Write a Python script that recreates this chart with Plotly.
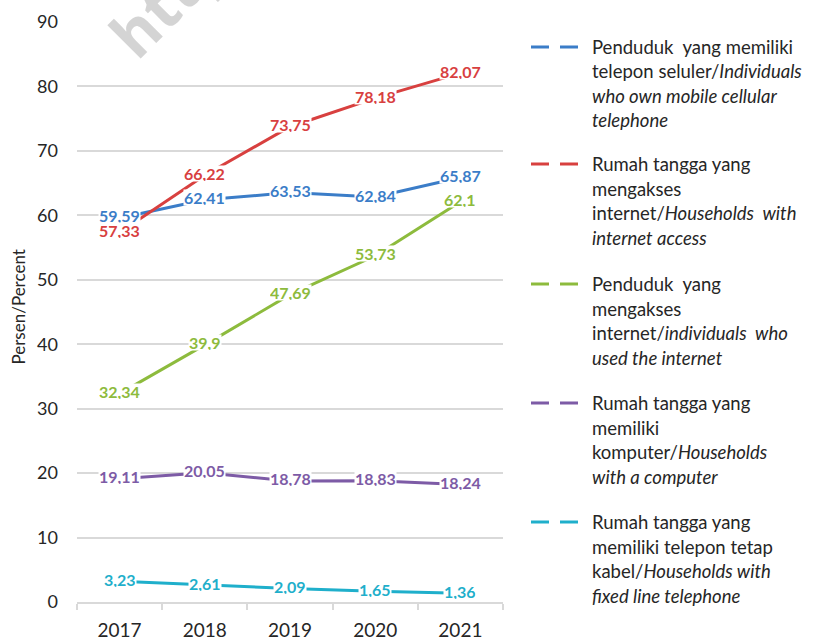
import plotly.graph_objects as go

years = ["2017", "2018", "2019", "2020", "2021"]
mobile = [59.59, 62.41, 63.53, 62.84, 65.87]
hh_internet = [57.33, 66.22, 73.75, 78.18, 82.07]
ind_internet = [32.34, 39.9, 47.69, 53.73, 62.1]
hh_computer = [19.11, 20.05, 18.78, 18.83, 18.24]
hh_fixed = [3.23, 2.61, 2.09, 1.65, 1.36]

series = [mobile, hh_internet, ind_internet, hh_computer, hh_fixed]
colors = ["#3B7DC8", "#D8403F", "#8DBB3D", "#7D5BA6", "#1FAFCB"]
legend_lines = [
    ["Penduduk  yang memiliki", "telepon seluler/<i>Individuals</i>", "<i>who own mobile cellular</i>", "<i>telephone</i>"],
    ["Rumah tangga yang", "mengakses", "internet/<i>Households  with</i>", "<i>internet access</i>"],
    ["Penduduk  yang", "mengakses", "internet/<i>individuals  who</i>", "<i>used the internet</i>"],
    ["Rumah tangga yang", "memiliki", "komputer/<i>Households</i>", "<i>with a computer</i>"],
    ["Rumah tangga yang", "memiliki telepon tetap", "kabel/<i>Households with</i>", "<i>fixed line telephone</i>"],
]
y_ticks = [0, 10, 20, 30, 40, 50, 60, 70, 80, 90]

FONT = "Lato"
W, H = 816, 644
ML, MR, MT, MB = 77, 313, 22, 42
PW = W - ML - MR
PH = H - MT - MB


def px(xp):
    return (xp - ML) / PW


def py(yp):
    return (H - MB - yp) / PH


fig = go.Figure()
for vals, col in zip(series, colors):
    fig.add_trace(go.Scatter(x=years, y=vals, mode="lines",
                             line=dict(color=col, width=3),
                             showlegend=False, hoverinfo="skip"))

annotations = []
# watermark
annotations.append(dict(text="<b>https://</b>", xref="paper", yref="paper",
                        x=px(88), y=py(-153),
                        showarrow=False, textangle=-45,
                        font=dict(family="Open Sans", size=62, color="rgba(170,170,170,0.5)")))

for vals, col in zip(series, colors):
    for i, yv in enumerate(vals):
        annotations.append(dict(x=i, y=yv, xref="x", yref="y", yshift=2,
                                text="<b>" + str(yv).replace(".", ",") + "</b>",
                                showarrow=False, bgcolor="white", borderpad=0, height=15,
                                font=dict(family=FONT, size=16, color=col)))

# y axis title
annotations.append(dict(text="Persen/Percent", xref="paper", yref="paper",
                        x=px(5), y=py(307), showarrow=False, textangle=-90,
                        font=dict(family=FONT, size=17, color="#262626")))

# custom legend
shapes = []
first_line_y = [47, 164, 284, 403, 522]
line_step = 24.5
for k, (lines, col) in enumerate(zip(legend_lines, colors)):
    y0 = first_line_y[k]
    shapes.append(dict(type="line", xref="paper", yref="paper",
                       x0=px(531), x1=px(578), y0=py(y0), y1=py(y0),
                       line=dict(color=col, width=3, dash="18px,11px")))
    for j, t in enumerate(lines):
        annotations.append(dict(text=t, xref="paper", yref="paper",
                                x=px(590), y=py(y0 + j * line_step),
                                xanchor="left", yanchor="middle", showarrow=False,
                                font=dict(family=FONT, size=18.5, color="#262626")))

fig.update_layout(
    width=W, height=H,
    margin=dict(l=ML, r=MR, t=MT, b=MB),
    paper_bgcolor="white", plot_bgcolor="white",
    font=dict(family=FONT, color="#262626"),
    annotations=annotations, shapes=shapes,
    xaxis=dict(type="category", showgrid=False, showline=True, linecolor="#D9D9D9",
               linewidth=1.5, ticks="outside", tickson="boundaries", ticklen=6,
               tickcolor="#D9D9D9", tickwidth=1.5, automargin=False,
               ticklabelstandoff=10,
               tickfont=dict(family=FONT, size=19, color="#262626"),
               range=[-0.5, 4.5], fixedrange=True),
    yaxis=dict(range=[0, 90], tickvals=y_ticks, showgrid=True, gridcolor="#D9D9D9",
               gridwidth=1.5, zeroline=False, showline=False, ticks="",
               ticklabelstandoff=18, automargin=False,
               tickfont=dict(family=FONT, size=18, color="#262626"), fixedrange=True),
)

fig.write_html("out.html", config={"displayModeBar": False},
               post_script="document.body.style.margin='0px';document.body.style.overflow='hidden';")
